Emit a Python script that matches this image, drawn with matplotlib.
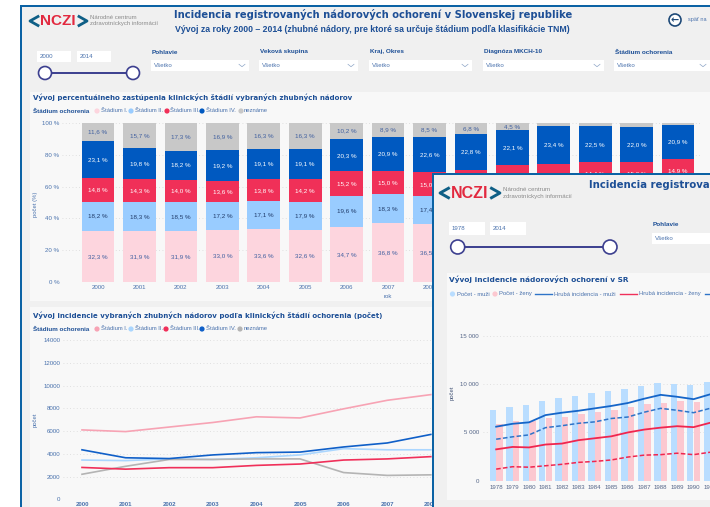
import matplotlib
matplotlib.use('Agg')
import matplotlib.pyplot as plt
from matplotlib.patches import Rectangle, Circle

W, H = 710, 507
plt.rcParams['font.family'] = ['Liberation Sans', 'DejaVu Sans']

# horny graf - percenta
years = [2000, 2001, 2002, 2003, 2004, 2005, 2006, 2007, 2008, 2009, 2010, 2011, 2012, 2013, 2014]
pct_1 = [32.3, 31.9, 31.9, 33.0, 33.6, 32.6, 34.7, 36.8, 36.5, 38.4, 40.7, 40.5, 41.0, 40.6, 42.0]
pct_2 = [18.2, 18.3, 18.5, 17.2, 17.1, 17.9, 19.6, 18.3, 17.4, 17.0, 17.5, 19.3, 19.9, 19.9, 20.7]
pct_3 = [14.8, 14.3, 14.0, 13.6, 13.8, 14.2, 15.2, 15.0, 15.0, 15.0, 15.2, 14.6, 14.4, 15.0, 14.9]
pct_4 = [23.1, 19.8, 18.2, 19.2, 19.1, 19.1, 20.3, 20.9, 22.6, 22.8, 22.1, 23.4, 22.5, 22.0, 20.9]
pct_x = [11.6, 15.7, 17.3, 16.9, 16.3, 16.3, 10.2, 8.9, 8.5, 6.8, 4.5, 2.2, 2.2, 2.5, 1.5]

# dolny graf - pocty (dalej je to zakryte druhym oknom)
cnt_1 = [6100, 5950, 6350, 6750, 7250, 7150, 7950, 8700, 9200]
cnt_2 = [3450, 3400, 3550, 3500, 3650, 3900, 4450, 4350, 4350]
cnt_3 = [2800, 2650, 2780, 2780, 2980, 3100, 3450, 3550, 3750]
cnt_4 = [4350, 3650, 3580, 3900, 4100, 4150, 4600, 4950, 5700]
cnt_x = [2200, 2900, 3500, 3500, 3550, 3550, 2350, 2100, 2150]

# druhe okno
years2 = [1978, 1979, 1980, 1981, 1982, 1983, 1984, 1985, 1986, 1987, 1988, 1989, 1990, 1991]
men = [7300, 7600, 7800, 8300, 8600, 8800, 9050, 9250, 9500, 9850, 10150, 10000, 9900, 10200]
women = [5900, 6150, 6150, 6450, 6600, 6950, 7100, 7300, 7650, 7900, 8100, 8250, 8200, 8400]
inc_m = [5600, 5900, 6050, 6800, 7050, 7250, 7500, 7750, 8050, 8500, 8900, 8700, 8450, 8950]
inc_m2 = [4300, 4550, 4750, 5500, 5700, 5950, 6100, 6450, 6600, 7100, 7500, 7300, 7050, 7500]
inc_z = [3250, 3500, 3450, 3750, 3850, 4200, 4400, 4600, 5000, 5300, 5500, 5650, 5550, 6000]
inc_z2 = [1200, 1450, 1400, 1550, 1700, 1900, 2000, 2150, 2450, 2650, 2700, 2850, 2700, 2950]

NAVY = '#1d4f96'
TICK = '#4a72ad'
GRAY_BG = '#f0f0f0'
PANEL = '#f8f8f8'
EDGE = '#0b62a4'
C1, C2, C3, C4, CX = '#fdd5de', '#99ccff', '#f03058', '#0059c0', '#c8c8c8'
L1, L2, L3, L4, LX = '#f7a3b4', '#aad6ff', '#f0305a', '#0f5fc8', '#b4b4b4'

fig = plt.figure(figsize=(W / 100, H / 100), dpi=100, facecolor='white')


def layer(z):
    a = fig.add_axes([0, 0, 1, 1], zorder=z)
    a.set_xlim(0, W)
    a.set_ylim(H, 0)
    a.axis('off')
    return a


def chart(x0, y0, x1, y1, z):
    a = fig.add_axes([x0 / W, 1 - y1 / H, (x1 - x0) / W, (y1 - y0) / H], zorder=z)
    a.patch.set_alpha(0)
    for s in a.spines.values():
        s.set_visible(False)
    a.tick_params(length=0, labelsize=4.4, labelcolor=TICK)
    a.grid(axis='y', linestyle=(0, (1, 3)), linewidth=0.6, color='#d8d8d8')
    a.set_axisbelow(True)
    return a


def logo(a, x, y, k=1.0, grey=4.3):
    # zobaciky loga su len ciary, aby sa nebili s textom
    a.plot([x + 9 * k, x + 1 * k, x + 9 * k], [y - 4.5 * k, y, y + 4.5 * k], color='#0f5f86', lw=2 * k)
    a.text(x + 11 * k, y, 'NCZI', color='#e2293f', fontsize=11 * k, fontweight='bold', va='center', ha='left')
    a.plot([x + 50 * k, x + 58 * k, x + 50 * k], [y - 4.5 * k, y, y + 4.5 * k], color='#0f5f86', lw=2 * k)
    a.text(x + 61 * k, y - 3.6 * k, 'Národné centrum', color='#8a8a8a', fontsize=grey, va='center')
    a.text(x + 61 * k, y + 3 * k, 'zdravotníckych informácií', color='#8a8a8a', fontsize=grey, va='center')


def box(a, x0, y0, x1, y1, txt, chevron=True):
    a.add_patch(Rectangle((x0, y0), x1 - x0, y1 - y0, fc='white', ec='none'))
    a.text(x0 + 3, (y0 + y1) / 2, txt, fontsize=4.4, color=TICK, va='center')
    if chevron:
        cx = x1 - 7
        cy = (y0 + y1) / 2
        a.plot([cx - 3, cx, cx + 3], [cy - 1.2, cy + 1.2, cy - 1.2], color='#8fa6c8', lw=0.5)


def slider(a, x0, x1, y, r=6.5):
    a.plot([x0, x1], [y, y], color='#3c3f8f', lw=1.4)
    for x in (x0, x1):
        a.add_patch(Circle((x, y), r, fc='white', ec='#3c3f8f', lw=1.2, zorder=3))


def legend_dots(a, y, names, dots, colors, starts):
    for n, d, c, s in zip(names, dots, colors, starts):
        a.add_patch(Circle((d, y), 2.6, fc=c, ec='none'))
        a.text(s, y, n, fontsize=4.2, color=TICK, va='center')


# pozadie a okno vzadu
back = layer(0)
back.add_patch(Rectangle((20, 5), W - 20, H - 5, fc=GRAY_BG, ec='none'))
back.add_patch(Rectangle((20, 5), W - 20, 2, fc=EDGE, ec='none'))
back.add_patch(Rectangle((20, 5), 2, H - 5, fc=EDGE, ec='none'))
back.add_patch(Rectangle((30, 92), W - 30, 209, fc=PANEL, ec='none'))
back.add_patch(Rectangle((30, 307), W - 30, 200, fc=PANEL, ec='none'))
logo(back, 29, 21)
back.text(373.5, 14, 'Incidencia registrovaných nádorových ochorení v Slovenskej republike',
          fontsize=7.2, fontweight='bold', color=NAVY, family='DejaVu Sans', ha='center', va='center')
back.text(175, 29.5, 'Vývoj za roky 2000 – 2014 (zhubné nádory, pre ktoré sa určuje štádium podľa klasifikácie TNM)',
          fontsize=6.3, fontweight='bold', color=NAVY, va='center')
back.add_patch(Circle((675, 20), 6, fc='white', ec='#1f4a78', lw=1.2))
back.text(675, 20, '←', fontsize=7, color='#1f4a78', ha='center', va='center', family='DejaVu Sans', fontweight='bold')
back.text(687.5, 20, 'späť na', fontsize=4, color=TICK, va='center')
box(back, 37, 51, 71, 62, '2000', False)
box(back, 77, 51, 111, 62, '2014', False)
slider(back, 45, 133, 73)
filters = ['Pohlavie', 'Veková skupina', 'Kraj, Okres', 'Diagnóza MKCH-10', 'Štádium ochorenia']
fx0 = [151, 259, 369, 483, 614]
fx1 = [249, 358, 472, 604, 710]
for f, a0, a1 in zip(filters, fx0, fx1):
    back.text(a0 + 1, 52, f, fontsize=4.6, fontweight='bold', color=NAVY, va='center')
    box(back, a0, 60, a1, 71, 'Všetko')

stage_names = ['Štádium I.', 'Štádium II.', 'Štádium III.', 'Štádium IV.', 'neznáme']
back.text(33, 97.5, 'Vývoj percentuálneho zastúpenia klinických štádií vybraných zhubných nádorov',
          fontsize=5.05, fontweight='bold', color=NAVY, va='center', family='DejaVu Sans')
back.text(33, 111, 'Štádium ochorenia', fontsize=4.5, fontweight='bold', color=NAVY, va='center')
legend_dots(back, 111, stage_names, [97, 131, 167, 202, 241], [C1, C2, C3, C4, CX], [101, 135, 170, 206, 244])
back.text(35, 204, 'počet (%)', fontsize=4.2, color=TICK, rotation=90, ha='center', va='center')
back.text(388, 296, 'rok', fontsize=4.4, color=TICK, ha='center', va='center')

back.text(33, 315, 'Vývoj incidencie vybraných zhubných nádorov podľa klinických štádií ochorenia (počet)',
          fontsize=5.05, fontweight='bold', color=NAVY, va='center', family='DejaVu Sans')
back.text(33, 329, 'Štádium ochorenia', fontsize=4.5, fontweight='bold', color=NAVY, va='center')
legend_dots(back, 329, stage_names, [97, 131, 166, 202, 240], [L1, L2, L3, L4, LX], [101, 135, 170, 206, 244])
back.text(35, 420, 'počet', fontsize=4.2, color=TICK, rotation=90, ha='center', va='center')

# percenta
ax = chart(62, 123, 700, 282, 1)
pos = list(range(len(years)))
bottom = [0.0] * len(years)
series = [(pct_1, C1, '#3f5f9f'), (pct_2, C2, '#1f3a68'), (pct_3, C3, 'white'), (pct_4, C4, 'white'), (pct_x, CX, '#3f5f9f')]
for vals, col, txt in series:
    bars = ax.bar(pos, vals, bottom=bottom, width=0.79, color=col)
    labs = [('%.1f %%' % v).replace('.', ',') if v >= 4 else '' for v in vals]
    ax.bar_label(bars, labels=labs, label_type='center', fontsize=4.5, color=txt)
    bottom = [b + v for b, v in zip(bottom, vals)]
ax.set_xlim(-0.87, 14.53)
ax.set_ylim(0, 100)
ax.set_yticks([0, 20, 40, 60, 80, 100])
ax.set_yticklabels(['0 %', '20 %', '40 %', '60 %', '80 %', '100 %'])
ax.set_xticks(pos)
ax.set_xticklabels(years)
ax.tick_params(axis='y', pad=2)
ax.tick_params(axis='x', pad=2.5)

# pocty
ax2 = chart(63, 340, 700, 499.3, 1)
line_pos = list(range(len(cnt_1)))
for vals, col in [(cnt_1, L1), (cnt_2, L2), (cnt_x, LX), (cnt_3, L3), (cnt_4, L4)]:
    ax2.plot(line_pos, vals, color=col, lw=1.2)
ax2.set_xlim((63 - 82) / 43.6, (700 - 82) / 43.6)
ax2.set_ylim(0, 14000)
ax2.set_yticks(range(0, 14001, 2000))
ax2.set_xticks(pos)
ax2.set_xticklabels(years, fontweight='bold')
ax2.tick_params(axis='y', pad=2)
ax2.tick_params(axis='x', pad=2)

# druhe okno navrchu
top = layer(2)
top.add_patch(Rectangle((432, 173), W - 432, H - 173, fc=GRAY_BG, ec='none'))
top.add_patch(Rectangle((432, 172.5), W - 432, 2, fc=EDGE, ec='none'))
top.add_patch(Rectangle((431.5, 172.5), 2, H - 172.5, fc=EDGE, ec='none'))
top.add_patch(Rectangle((447, 273), W - 447, 227, fc=PANEL, ec='none'))
logo(top, 439, 193, 1.05, 4.4)
top.text(589, 185, 'Incidencia registrovaných nádorových ochorení v Slovenskej republike',
         fontsize=7.3, fontweight='bold', color=NAVY, family='DejaVu Sans', va='center', clip_on=True)
box(top, 449, 222, 485, 235, '1978', False)
box(top, 490, 222, 526, 235, '2014', False)
slider(top, 457.7, 610, 247, 7)
top.text(653, 224, 'Pohlavie', fontsize=4.6, fontweight='bold', color=NAVY, va='center')
box(top, 652, 233, 725, 244, 'Všetko', False)
top.text(449, 279.5, 'Vývoj incidencie nádorových ochorení v SR', fontsize=5.3, fontweight='bold',
         color=NAVY, family='DejaVu Sans', va='center')
legend_dots(top, 294, ['Počet - muži', 'Počet - ženy'], [452.5, 495], ['#b9ddff', '#fcc8d0'], [457, 499])
top.plot([535, 552], [294, 294], color='#2f74c8', lw=1)
top.text(554, 294, 'Hrubá incidencia - muži', fontsize=4.2, color=TICK, va='center')
top.plot([620, 637], [294, 294], color='#f0305a', lw=1)
top.text(639, 294, 'Hrubá incidencia - ženy', fontsize=4.2, color=TICK, va='center')
top.plot([705, 710], [294, 294], color='#2f74c8', lw=1)
top.text(452, 393, 'počet', fontsize=4.2, color='#445577', rotation=90, ha='center', va='center')

ax3 = chart(483, 336, 710, 480.7, 3)
pos2 = list(range(len(years2)))
ax3.bar([p - 0.2 for p in pos2], men, width=0.39, color='#b9ddff')
ax3.bar([p + 0.2 for p in pos2], women, width=0.39, color='#fcc8d0')
ax3.plot(pos2, inc_m, color='#1565c8', lw=1.3)
ax3.plot(pos2, inc_m2, color='#2f74c8', lw=1.1, linestyle=(0, (3, 1.5)))
ax3.plot(pos2, inc_z, color='#f0264f', lw=1.3)
ax3.plot(pos2, inc_z2, color='#f0264f', lw=1.1, linestyle=(0, (3, 1.5)))
ax3.set_xlim(-0.80, 12.91)
ax3.set_ylim(0, 15000)
ax3.set_yticks([0, 5000, 10000, 15000])
ax3.set_yticklabels(['0', '5 000', '10 000', '15 000'])
ax3.set_xticks(pos2)
ax3.set_xticklabels(years2)
ax3.tick_params(labelcolor='#556688', pad=3)

fig.savefig('out.png', dpi=100)
